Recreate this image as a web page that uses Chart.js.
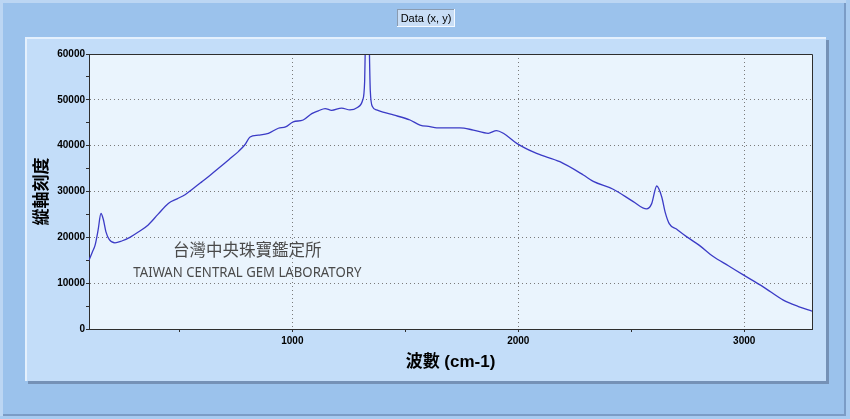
<!DOCTYPE html>
<html>
<head>
<meta charset="utf-8">
<title>Data (x, y)</title>
<script src="https://cdn.jsdelivr.net/npm/chart.js@4/dist/chart.umd.min.js"></script>
<style>
  html, body { margin: 0; padding: 0; background: #9bc2ec; }
  canvas { display: block; }
</style>
</head>
<body>
<canvas id="chart" width="850" height="419"></canvas>
<script>
// wave numbers (cm-1)
const waveNumbers = [
  100, 115, 127, 140, 153, 163, 175, 190, 215, 245,
  281, 320, 362, 405, 451, 490, 525, 560, 599, 635,
  672, 720, 761, 790, 813, 850, 894, 938, 970, 1004,
  1048, 1086, 1115, 1145, 1174, 1218, 1255, 1290, 1311, 1320,
  1326, 1332, 1338, 1345, 1355, 1373, 1410, 1447, 1521, 1565,
  1609, 1639, 1700, 1742, 1801, 1867, 1904, 1934, 1993, 2081,
  2184, 2288, 2332, 2420, 2509, 2568, 2590, 2613, 2635, 2650,
  2668, 2700, 2746, 2800, 2863, 2930, 2996, 3084, 3173, 3240, 3300,
]

// intensity; the 1332 peak runs off the top of the axis
const intensities = [
  15000, 16800, 18300, 21500, 25200, 24000, 21200, 19500, 18800, 19200,
  20000, 21200, 22700, 25000, 27400, 28400, 29300, 30600, 32100, 33500,
  35000, 37000, 38700, 40200, 41900, 42300, 42700, 43800, 44100, 45200,
  45600, 47000, 47600, 48100, 47700, 48200, 47800, 48400, 49900, 54000,
  70000, 90000, 70000, 52000, 48500, 47800, 47200, 46700, 45600, 44500,
  44150, 43900, 43900, 43900, 43400, 42700, 43300, 42700, 40500, 38300,
  36500, 33600, 32200, 30500, 27800, 26200, 27300, 31200, 28800, 25500,
  23000, 21800, 20100, 18300, 15800, 13800, 11800, 9200, 6300, 4900, 3900,
]

const xTickValues = [500, 1000, 1500, 2000, 2500, 3000]
const xLabelValues = [1000, 2000, 3000]
const yTickValues = [0, 5000, 10000, 15000, 20000, 25000, 30000, 35000, 40000, 45000, 50000, 55000, 60000]
const yLabelValues = [0, 10000, 20000, 30000, 40000, 50000, 60000]
const xMin = 100
const xMax = 3300
const yMin = 0
const yMax = 60000

const seriesLabel = 'Data (x, y)'
const xTitle = '波數 (cm-1)'
const yTitle = '縱軸刻度'
const watermarkCn = '台灣中央珠寶鑑定所'
const watermarkEn = 'TAIWAN CENTRAL GEM LABORATORY'

const tickFont = { family: "'Liberation Sans', Arial, sans-serif", size: 10, weight: 'bold' }
const gridDots = '#7a7a7a'
const axisColor = '#2e2e2e'
const clear = 'rgba(0,0,0,0)'

const tickValue = (ctx) => (ctx.tick ? ctx.tick.value : NaN)

const panelPlugin = {
  id: 'panel',
  beforeDraw(chart) {
    const { ctx, width, height, chartArea } = chart
    ctx.save()
    // outer window with its bevel
    ctx.fillStyle = '#9bc2ec'
    ctx.fillRect(0, 0, width, height)
    ctx.fillStyle = '#bcd6f3'
    ctx.fillRect(0, 0, width, 3)
    ctx.fillRect(0, 0, 3, height)
    ctx.fillStyle = '#7b9cc6'
    ctx.fillRect(width - 6, 3, 2, height - 7)
    ctx.fillRect(3, height - 5, width - 7, 2)
    ctx.fillStyle = '#a8cbf0'
    ctx.fillRect(width - 4, 0, 4, height)
    ctx.fillRect(0, height - 3, width, 3)
    // inner panel with shadow
    ctx.fillStyle = '#7591b6'
    ctx.fillRect(28, 40, 801, 344)
    ctx.fillStyle = '#c3ddf9'
    ctx.fillRect(25, 37, 801, 344)
    ctx.fillStyle = '#e4f0fd'
    ctx.fillRect(25, 37, 801, 2)
    ctx.fillRect(25, 37, 2, 344)
    // plot area
    ctx.fillStyle = '#eaf4fd'
    ctx.fillRect(chartArea.left, chartArea.top, chartArea.right - chartArea.left, chartArea.bottom - chartArea.top)
    ctx.restore()
  },
  afterDatasetsDraw(chart) {
    const { ctx, chartArea } = chart
    ctx.save()
    ctx.strokeStyle = axisColor
    ctx.lineWidth = 1
    ctx.beginPath()
    ctx.moveTo(Math.round(chartArea.left) + 0.5, Math.round(chartArea.top) + 0.5)
    ctx.lineTo(Math.round(chartArea.right) + 0.5, Math.round(chartArea.top) + 0.5)
    ctx.lineTo(Math.round(chartArea.right) + 0.5, Math.round(chartArea.bottom) + 0.5)
    ctx.stroke()
    ctx.restore()
  },
  afterDraw(chart) {
    const { ctx, chartArea } = chart
    const w = chartArea.right - chartArea.left
    const h = chartArea.bottom - chartArea.top
    ctx.save()

    // legend box
    const label = chart.data.datasets[0].label
    ctx.fillStyle = '#c9def6'
    ctx.fillRect(397, 9, 58, 18)
    ctx.fillStyle = '#8a9bb0'
    ctx.fillRect(397, 9, 58, 1)
    ctx.fillRect(397, 9, 1, 18)
    ctx.fillStyle = '#f4f9ff'
    ctx.fillRect(397, 26, 58, 1)
    ctx.fillRect(454, 9, 1, 18)
    ctx.fillStyle = '#000'
    ctx.font = "11px 'Liberation Sans', Arial, sans-serif"
    ctx.textAlign = 'center'
    ctx.textBaseline = 'middle'
    ctx.fillText(label, 426, 18.5)

    // watermark
    const cx = chartArea.left + w * 0.219
    ctx.fillStyle = '#4a4a4a'
    ctx.font = "16.5px 'Noto Sans CJK TC', sans-serif"
    ctx.fillText(watermarkCn, cx, chartArea.top + h * 0.713, 150)
    ctx.font = "15px 'Noto Sans', sans-serif"
    ctx.fillText(watermarkEn, cx, chartArea.top + h * 0.795, 228)
    ctx.restore()
  },
}

const points = waveNumbers.map((x, i) => ({ x, y: intensities[i] }))

new Chart(document.getElementById('chart'), {
  type: 'line',
  data: {
    datasets: [
      {
        label: seriesLabel,
        data: points,
        borderColor: '#3b3bc6',
        borderWidth: 1.3,
        pointRadius: 0,
        fill: false,
        cubicInterpolationMode: 'monotone',
      },
    ],
  },
  options: {
    responsive: false,
    animation: false,
    devicePixelRatio: 1,
    layout: {
      padding: { left: 0, top: 54, right: 38, bottom: 0 },
    },
    plugins: {
      legend: { display: false },
      tooltip: { enabled: false },
    },
    scales: {
      x: {
        type: 'linear',
        min: xMin,
        max: xMax,
        afterBuildTicks(scale) {
          scale.ticks = xTickValues.map((value) => ({ value }))
        },
        afterFit(scale) {
          scale.height = 90
        },
        ticks: {
          autoSkip: false,
          maxRotation: 0,
          padding: 3,
          color: '#000',
          font: tickFont,
          callback: (value) => (xLabelValues.includes(value) ? String(value) : ''),
        },
        grid: {
          color: (ctx) => (xLabelValues.includes(tickValue(ctx)) ? gridDots : clear),
          tickColor: axisColor,
          tickLength: 3,
          lineWidth: 1,
        },
        border: { display: true, color: axisColor, width: 1, dash: [1, 3] },
        title: {
          display: true,
          text: xTitle,
          color: '#000',
          font: { family: "'Liberation Sans', 'Noto Sans CJK TC', sans-serif", size: 17, weight: 'bold' },
          padding: { top: 0, bottom: 46 },
        },
      },
      y: {
        type: 'linear',
        min: yMin,
        max: yMax,
        afterBuildTicks(scale) {
          scale.ticks = yTickValues.map((value) => ({ value }))
        },
        afterFit(scale) {
          scale.width = 89
        },
        ticks: {
          autoSkip: false,
          padding: 1,
          color: '#000',
          font: tickFont,
          callback: (value) => (yLabelValues.includes(value) ? String(value) : ''),
        },
        grid: {
          color: (ctx) => {
            const v = tickValue(ctx)
            return yLabelValues.includes(v) && v > yMin && v < yMax ? gridDots : clear
          },
          tickColor: axisColor,
          tickLength: 3,
          lineWidth: 1,
        },
        border: { display: true, color: axisColor, width: 1, dash: [1, 3] },
        title: {
          display: true,
          text: yTitle,
          color: '#000',
          font: { family: "'Noto Sans CJK TC', sans-serif", size: 17, weight: 'bold' },
          padding: { top: 30, bottom: 0 },
        },
      },
    },
  },
  plugins: [panelPlugin],
})
</script>
</body>
</html>
